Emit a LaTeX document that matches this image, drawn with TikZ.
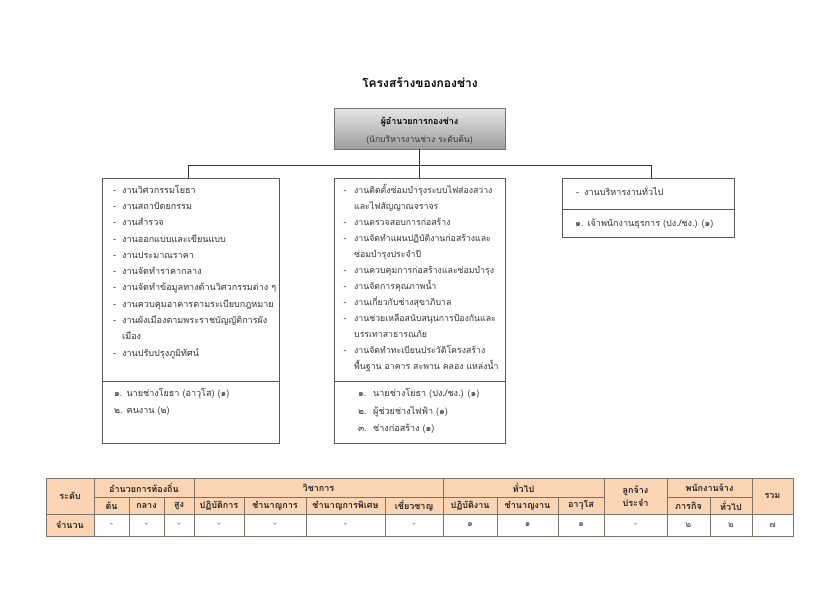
\documentclass[tikz,border=0pt]{standalone}
\usepackage{fontspec}
\setmainfont{Loma}[Script=Thai]
\usetikzlibrary{shadows}
\definecolor{peach}{HTML}{FBD4B4}
\definecolor{tblline}{RGB}{125,115,105}
\newcommand\dsh[1][9pt]{\makebox[#1][l]{-}}
\newcommand\ind[1][9pt]{\hspace*{#1}}
\newcommand\tc[7]{\path[tcell,fill=#5] (#1,#2) rectangle node[tctext] (#6) {#7} (#3,#4);}
\newcommand\td[6]{\path[tcell,fill=white] (#1,#2) rectangle node[tcdata] (#5) {#6} (#3,#4);}
\begin{document}
\begin{tikzpicture}[x=1pt,y=-1pt,
  orgline/.style={draw=black!80, line width=0.7pt},
  unitbox/.style={draw=black!65, line width=0.8pt, inner sep=0pt, anchor=north west},
  itm/.style={anchor=base west, inner sep=0pt, text=black!80, font=\fontsize{9.05}{10}\selectfont},
  itmm/.style={itm, font=\fontsize{8.75}{10}\selectfont},
  tcell/.style={draw=tblline, line width=0.6pt},
  tctext/.style={inner sep=0pt, align=center, text=black!85, font=\bfseries\fontsize{9}{13}\selectfont},
  tcdata/.style={inner sep=0pt, text=black!75, font=\fontsize{8.5}{10}\selectfont}]
\useasboundingbox[fill=white] (0,0) rectangle (840,594);

% title
\node[anchor=base, inner sep=0pt, font=\bfseries\fontsize{12}{14}\selectfont] (title) at (420,88) {โครงสร้างของกองช่าง};

% director box
\node[draw=black!55, line width=0.7pt, top color=black!10, bottom color=black!38,
  drop shadow={shadow xshift=1.2pt, shadow yshift=-1.2pt, opacity=0.35},
  minimum width=171pt, minimum height=41pt, inner sep=0pt] (dir) at (419.5,128.5) {};
\node[anchor=base, inner sep=0pt, font=\bfseries\fontsize{8.9}{10}\selectfont] (dir1) at (419.5,124.5) {ผู้อำนวยการกองช่าง};
\node[anchor=base, inner sep=0pt, text=black!80, font=\fontsize{8.6}{10}\selectfont] (dir2) at (419.5,142) {(นักบริหารงานช่าง ระดับต้น)};

% unit boxes
\node[unitbox, minimum width=177pt, minimum height=265pt] (left) at (102,178) {};
\node[unitbox, minimum width=171pt, minimum height=265pt] (mid) at (333.5,178) {};
\node[unitbox, minimum width=172pt, minimum height=59pt] (right) at (562,178) {};
\draw[unitbox] (left.west |- 0,381) -- (left.east |- 0,381);
\draw[unitbox] (mid.west |- 0,381) -- (mid.east |- 0,381);
\draw[unitbox] (right.west |- 0,209) -- (right.east |- 0,209);

% connectors
\coordinate (busL) at (188,165);
\coordinate (busR) at (651,165);
\draw[orgline] (dir.south) -- (dir.south |- busL);
\draw[orgline] (busL) -- (busR);
\draw[orgline] (busL) -- (busL |- left.north);
\draw[orgline] (mid.north |- busL) -- (mid.north);
\draw[orgline] (busR) -- (busR |- right.north);

% left box text
\foreach \t [count=\i from 0] in {
  \dsh งานวิศวกรรมโยธา,
  \dsh งานสถาปัตยกรรม,
  \dsh งานสำรวจ,
  \dsh งานออกแบบและเขียนแบบ,
  \dsh งานประมาณราคา,
  \dsh งานจัดทำราคากลาง,
  \dsh งานจัดทำข้อมูลทางด้านวิศวกรรมต่าง ๆ,
  \dsh งานควบคุมอาคารตามระเบียบกฎหมาย,
  \dsh งานผังเมืองตามพระราชบัญญัติการผัง,
  \ind เมือง,
  \dsh งานปรับปรุงภูมิทัศน์}
  \node[itm] (L\i) at (113,193.3+16.27*\i) {\t};
\node[itm] (Lp1) at (114,396.3) {๑. นายช่างโยธา (อาวุโส) (๑)};
\node[itm] (Lp2) at (114,413.8) {๒. คนงาน (๒)};

% middle box text
\foreach \t [count=\i from 0] in {
  \dsh[10.5pt]งานติดตั้งซ่อมบำรุงระบบไฟส่องสว่าง,
  \ind[10.5pt]และไฟสัญญาณจราจร,
  \dsh[10.5pt]งานตรวจสอบการก่อสร้าง,
  \dsh[10.5pt]งานจัดทำแผนปฏิบัติงานก่อสร้างและ,
  \ind[10.5pt]ซ่อมบำรุงประจำปี,
  \dsh[10.5pt]งานควบคุมการก่อสร้างและซ่อมบำรุง,
  \dsh[10.5pt]งานจัดการคุณภาพน้ำ,
  \dsh[10.5pt]งานเกี่ยวกับช่างสุขาภิบาล,
  \dsh[10.5pt]งานช่วยเหลือสนับสนุนการป้องกันและ,
  \ind[10.5pt]บรรเทาสาธารณภัย,
  \dsh[10.5pt]งานจัดทำทะเบียนประวัติโครงสร้าง,
  \ind[10.5pt]พื้นฐาน อาคาร สะพาน คลอง แหล่งน้ำ}
  \node[itmm] (M\i) at (343.5,193.7+16*\i) {\t};
\node[itm] (Mp1) at (358,396.3) {\makebox[15pt][l]{๑.}นายช่างโยธา (ปง./ชง.) (๑)};
\node[itm] (Mp2) at (358,414) {\makebox[15pt][l]{๒.}ผู้ช่วยช่างไฟฟ้า (๑)};
\node[itm] (Mp3) at (358,431.7) {\makebox[15pt][l]{๓.}ช่างก่อสร้าง (๑)};

% right box text
\node[itm] (R1) at (576,195) {\dsh[8pt]งานบริหารงานทั่วไป};
\node[itm] (Rp1) at (575,226) {๑. เจ้าพนักงานธุรการ (ปง./ชง.) (๑)};

% table header row 1
\tc{46}{478}{94}{514}{peach}{hLevel}{ระดับ}
\tc{94}{478}{194}{497}{peach}{hAdm}{อำนวยการท้องถิ่น}
\tc{194}{478}{443}{497}{peach}{hAca}{วิชาการ}
\tc{443}{478}{604}{497}{peach}{hGen}{ทั่วไป}
\tc{604}{478}{667}{514}{peach}{hPerm}{ลูกจ้าง\\ประจำ}
\tc{667}{478}{752}{497}{peach}{hEmp}{พนักงานจ้าง}
\tc{752}{478}{793}{514}{peach}{hSum}{รวม}
% header row 2
\tc{94}{497}{129}{514}{peach}{a1}{ต้น}
\tc{129}{497}{164}{514}{peach}{a2}{กลาง}
\tc{164}{497}{194}{514}{peach}{a3}{สูง}
\tc{194}{497}{244}{514}{peach}{b1}{ปฏิบัติการ}
\tc{244}{497}{306}{514}{peach}{b2}{ชำนาญการ}
\tc{306}{497}{385}{514}{peach}{b3}{ชำนาญการพิเศษ}
\tc{385}{497}{443}{514}{peach}{b4}{เชี่ยวชาญ}
\tc{443}{497}{497}{514}{peach}{c1}{ปฏิบัติงาน}
\tc{497}{497}{558}{514}{peach}{c2}{ชำนาญงาน}
\tc{558}{497}{604}{514}{peach}{c3}{อาวุโส}
\tc{667}{497}{710}{514}{peach}{e1}{ภารกิจ}
\tc{710}{497}{752}{514}{peach}{e2}{ทั่วไป}
% data row
\tc{46}{514}{94}{536}{peach}{dLabel}{จำนวน}
\td{94}{514}{129}{536}{d1}{-}
\td{129}{514}{164}{536}{d2}{-}
\td{164}{514}{194}{536}{d3}{-}
\td{194}{514}{244}{536}{d4}{-}
\td{244}{514}{306}{536}{d5}{-}
\td{306}{514}{385}{536}{d6}{-}
\td{385}{514}{443}{536}{d7}{-}
\td{443}{514}{497}{536}{d8}{๑}
\td{497}{514}{558}{536}{d9}{๑}
\td{558}{514}{604}{536}{d10}{๑}
\td{604}{514}{667}{536}{d11}{-}
\td{667}{514}{710}{536}{d12}{๒}
\td{710}{514}{752}{536}{d13}{๒}
\td{752}{514}{793}{536}{d14}{๗}
\end{tikzpicture}
\end{document}
